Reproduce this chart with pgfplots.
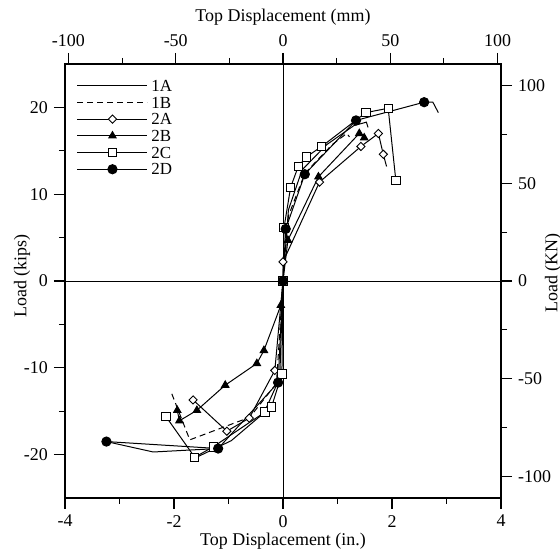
\documentclass[border=0pt]{standalone}
\usepackage{fontspec}
\setmainfont{Liberation Serif}
\usepackage{pgfplots}
\pgfplotsset{compat=1.18}
\begin{document}
\fontsize{18}{18}\selectfont
\begin{tikzpicture}
\pgfplotsset{
  common/.style={
    at={(0,0)}, anchor=south west,
    scale only axis, width=436bp, height=434bp,
    tick align=outside,
    major tick length=11bp, minor tick length=6bp,
    every tick/.style={black, line width=1.1bp},
    every minor tick/.style={black, line width=0.9bp},
    axis line style={line width=1.3bp},
    tick label style={font=\fontsize{18}{18}\selectfont},
    /pgf/number format/assume math mode=true,
  }
}
\begin{axis}[common,
  xmin=-4, xmax=4, ymin=-25, ymax=25,
  xtick pos=lower, ytick pos=left,
  xtick={-4,-2,0,2,4}, minor xtick={-3,-1,1,3},
  ytick={-20,-10,0,10,20}, minor ytick={-15,-5,5,15},
  legend style={at={(axis description cs:0.027,0.965)}, anchor=north west,
    draw=none, fill=none, inner sep=0pt, row sep=4bp,
    nodes={inner ysep=0.6bp, inner xsep=3.5bp, text height=11.5bp, text depth=0bp},
    font=\fontsize{17}{17}\selectfont},
  legend cell align=left,
  legend image code/.code={\draw[mark repeat=2,mark phase=2] plot coordinates {(0bp,0bp) (35bp,0bp) (70bp,0bp)};},
  every axis plot/.append style={line width=1bp, black},
]
\draw[line width=0.8bp] (axis cs:-4,0) -- (axis cs:4,0);
\draw[line width=0.8bp] (axis cs:0,-25) -- (axis cs:0,25);

% 1A
\addplot[solid, mark=none] coordinates {
(-1.55,-20.2) (-0.95,-18.4) (-0.35,-15.2) (-0.06,-11.2) (0,0)
(0.1,8.2) (0.35,12.8) (0.8,15.7) (1.3,17.9) (1.53,18.3) (1.56,17.7)};
\addlegendentry{1A}
% 1B
\addplot[dashed, dash pattern=on 6bp off 4bp, mark=none] coordinates {
(-2.04,-13.0) (-1.71,-18.3) (-0.61,-15.7) (-0.12,-11.8) (0,0)
(0.1,7.5) (0.4,12.4) (0.9,15.7) (1.17,17.0) (1.22,16.6)};
\addlegendentry{1B}
% 2A
\addplot[solid, mark=square*, mark size=2.9bp, mark options={rotate=45, fill=white, solid, line width=0.9bp}] coordinates {
(-1.65,-13.7) (-1.03,-17.3) (-0.62,-15.8) (-0.15,-10.3) (0,0)
(0.0,2.2) (0.67,11.4) (1.43,15.5) (1.75,17.0) (1.84,14.6)};
\addlegendentry{2A}
\addplot[solid, mark=none, forget plot] coordinates {(1.84,14.6) (1.90,13.2)};
% 2B
\addplot[solid, mark=triangle*, mark size=4.2bp, mark options={solid}] coordinates {
(-1.94,-14.9) (-1.90,-16.1) (-1.58,-14.9) (-1.06,-12.0) (-0.48,-9.5) (-0.35,-8.0) (-0.04,-2.8) (0,0)
(0.09,4.7) (0.65,12.0) (1.40,17.0) (1.49,16.5)};
\addlegendentry{2B}
% 2C
\addplot[solid, mark=square*, mark size=4.2bp, mark options={fill=white, solid, line width=0.9bp}] coordinates {
(-2.15,-15.6) (-1.62,-20.3) (-1.28,-19.1) (-0.33,-15.1) (-0.21,-14.5) (-0.02,-10.7) (0,0)
(0.02,6.2) (0.14,10.8) (0.28,13.2) (0.43,14.3) (0.71,15.5) (1.52,19.4) (1.93,19.9) (2.07,11.6)};
\addlegendentry{2C}
% 2D
\addplot[solid, mark=*, mark size=4.6bp, mark options={solid}] coordinates {
(-3.24,-18.5) (-1.19,-19.3) (-0.09,-11.7) (0,0)
(0.05,6.0) (0.40,12.3) (1.34,18.5) (2.59,20.6)};
\addlegendentry{2D}
\addplot[solid, mark=none, forget plot] coordinates {(-3.24,-18.5) (-2.38,-19.7) (-1.19,-19.3)};
\addplot[solid, mark=none, forget plot] coordinates {(2.59,20.6) (2.75,20.6) (2.85,19.4)};
\end{axis}
\begin{axis}[common,
  xmin=-101.6, xmax=101.6, ymin=-111.2, ymax=111.2,
  axis x line*=top, axis y line*=right,
  xtick={-100,-50,0,50,100}, minor xtick={-75,-25,25,75},
  ytick={-100,-50,0,50,100}, minor ytick={-75,-25,25,75},
]
\addplot[draw=none] coordinates {(0,0)};
\end{axis}
\node at (218bp,-43bp) {Top Displacement (in.)};
\node at (218bp,481bp) {Top Displacement (mm)};
\node[rotate=90] at (-43bp,222bp) {Load (kips)};
\node[rotate=90] at (488bp,225bp) {Load (KN)};
\pgfresetboundingbox
\path[use as bounding box] (-65bp,-61bp) rectangle (495bp,498bp);
\end{tikzpicture}
\end{document}
